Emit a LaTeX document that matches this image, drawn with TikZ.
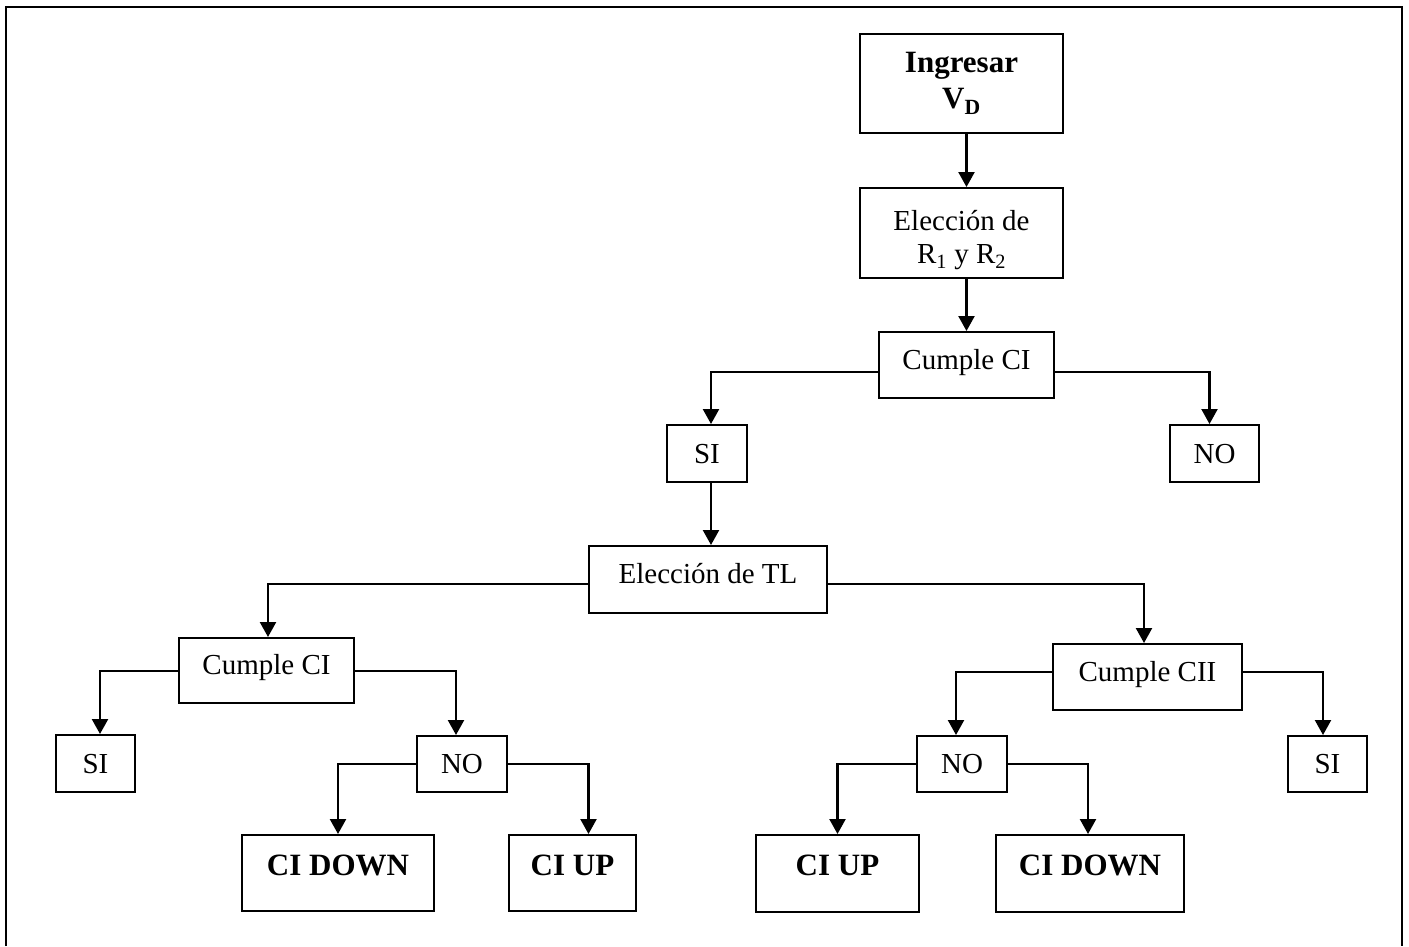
\documentclass[tikz,border=0pt]{standalone}
\usepackage{fontspec}
\setmainfont{Liberation Serif}
\usetikzlibrary{arrows.meta}
\begin{document}
\begin{tikzpicture}[x=1pt,y=-1pt,
  box/.style={draw, line width=2.3pt, inner sep=0pt, anchor=north, font=\fontsize{29}{33}\selectfont},
  bbox/.style={box, font=\fontsize{31}{36}\selectfont\bfseries},
  one/.style 2 args={text height=#1pt, text depth=#2pt},
  conn/.style={line width=2.3pt, -{Triangle[length=15pt,width=16pt]}},
  frame/.style={line width=2.3pt}]
\useasboundingbox (0,0) rectangle (1409,946);
\draw[frame] (6,946) -- (6,7) -- (1402,7) -- (1402,946);
% nodes
\node[bbox, align=center, minimum width=203pt, minimum height=99pt] (ing) at (961.5,33) {Ingresar\\V\textsubscript{D}};
\node[box, align=center, minimum width=203pt, minimum height=90pt] (elec) at (961.5,187) {\rule{0pt}{34pt}Elección de\\R\textsubscript{1} y R\textsubscript{2}};
\node[box, minimum width=175pt, one={37}{29}] (c1) at (966.5,331) {Cumple CI};
\node[box, minimum width=80pt, one={38}{19}] (si1) at (707,424) {SI};
\node[box, minimum width=89pt, one={38}{19}] (no1) at (1214.5,424) {NO};
\node[box, minimum width=238pt, one={37}{30}] (tl) at (708,545) {Elección de TL};
\node[box, minimum width=175pt, one={36}{29}] (c2) at (266.5,637) {Cumple CI};
\node[box, minimum width=79pt, one={38}{19}] (si2) at (95.5,734) {SI};
\node[box, minimum width=90pt, one={37}{19}] (no2) at (462,735) {NO};
\node[box, minimum width=189pt, one={37}{29}] (c3) at (1147.5,643) {Cumple CII};
\node[box, minimum width=90pt, one={37}{19}] (no3) at (962,735) {NO};
\node[box, minimum width=79pt, one={37}{19}] (si3) at (1327.5,735) {SI};
\node[bbox, minimum width=192pt, one={40}{36}] (dn1) at (338,834) {CI DOWN};
\node[bbox, minimum width=127pt, one={40}{36}] (up1) at (572.5,834) {CI UP};
\node[bbox, minimum width=163pt, one={40}{37}] (up2) at (837.5,834) {CI UP};
\node[bbox, minimum width=188pt, one={40}{37}] (dn2) at (1090,834) {CI DOWN};
% connectors
\draw[conn] ([xshift=5pt]ing.south) -- ([xshift=5pt]elec.north);
\draw[conn] ([xshift=5pt]elec.south) -- (c1.north);
\draw[conn] ([yshift=-7pt]c1.west) -| ([xshift=4pt]si1.north);
\draw[conn] ([yshift=-7pt]c1.east) -| ([xshift=-5pt]no1.north);
\draw[conn] ([xshift=4pt]si1.south) -- ([xshift=3pt]tl.north);
\draw[conn] ([yshift=-4pt]tl.west) -| ([xshift=1.5pt]c2.north);
\draw[conn] ([yshift=-4pt]tl.east) -| ([xshift=-3.5pt]c3.north);
\draw[conn] (c2.west) -| ([xshift=4.5pt]si2.north);
\draw[conn] (c2.east) -| ([xshift=-6pt]no2.north);
\draw[conn] (no2.west) -| (dn1.north);
\draw[conn] (no2.east) -| ([xshift=16pt]up1.north);
\draw[conn] ([yshift=5pt]c3.west) -| ([xshift=-6pt]no3.north);
\draw[conn] ([yshift=5pt]c3.east) -| ([xshift=-4.5pt]si3.north);
\draw[conn] (no3.west) -| (up2.north);
\draw[conn] (no3.east) -| ([xshift=-2pt]dn2.north);
\end{tikzpicture}
\end{document}
